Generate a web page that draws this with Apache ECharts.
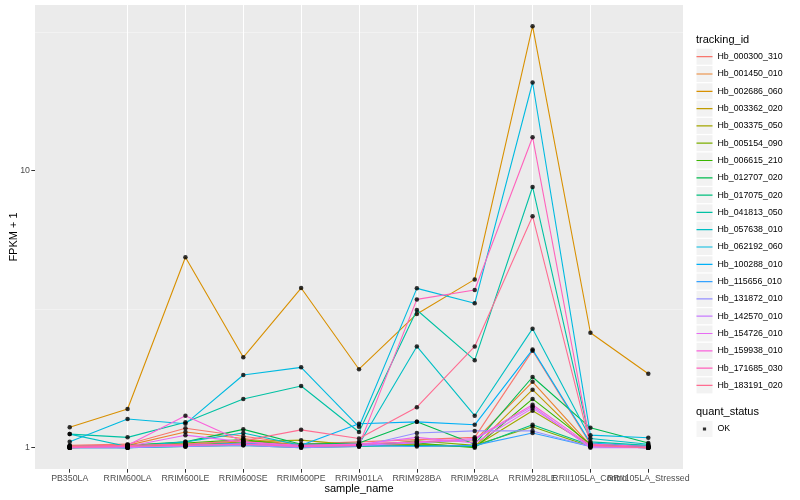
<!DOCTYPE html>
<html><head><meta charset="utf-8">
<script src="https://cdn.jsdelivr.net/npm/echarts@6/dist/echarts.min.js"></script>
<style>html,body{margin:0;padding:0;background:#fff}#c{width:800px;height:500px}</style>
</head><body><div id="c"></div>
<script>
const categories = ["PB350LA","RRIM600LA","RRIM600LE","RRIM600SE","RRIM600PE","RRIM901LA","RRIM928BA","RRIM928LA","RRIM928LE","RRII105LA_Control","RRII105LA_Stressed"];
const trackingIds = ["Hb_000300_310","Hb_001450_010","Hb_002686_060","Hb_003362_020","Hb_003375_050","Hb_005154_090","Hb_006615_210","Hb_012707_020","Hb_017075_020","Hb_041813_050","Hb_057638_010","Hb_062192_060","Hb_100288_010","Hb_115656_010","Hb_131872_010","Hb_142570_010","Hb_154726_010","Hb_159938_010","Hb_171685_030","Hb_183191_020"];
const colors = ["#F8766D","#EA8331","#D89000","#C09B00","#A3A500","#7CAE00","#39B600","#00BB4E","#00BF7D","#00C1A3","#00BFC4","#00BAE0","#00B0F6","#35A2FF","#9590FF","#C77CFF","#E76BF3","#FA62DB","#FF62BC","#FF6C91"];
const s0  = [1.02, 1.03, 1.175, 1.10, 1.03, 1.05, 1.07, 1.09, 2.24, 1.03, 1.01];
const s1  = [1.01, 1.02, 1.14, 1.08, 1.02, 1.03, 1.05, 1.06, 1.73, 1.02, 1.01];
const s2  = [1.185, 1.38, 4.87, 2.12, 3.77, 1.92, 3.04, 4.05, 33.2, 2.60, 1.85];
const s3  = [1.00, 1.01, 1.02, 1.04, 1.01, 1.02, 1.02, 1.01, 1.62, 1.01, 1.00];
const s4  = [1.00, 1.01, 1.02, 1.05, 1.065, 1.02, 1.03, 1.01, 1.36, 1.02, 1.01];
const s5  = [1.01, 1.00, 1.03, 1.06, 1.02, 1.01, 1.06, 1.02, 1.19, 1.01, 1.00];
const s6  = [1.00, 1.02, 1.04, 1.07, 1.01, 1.03, 1.04, 1.00, 1.50, 1.03, 1.00];
const s7  = [1.01, 1.02, 1.05, 1.165, 1.03, 1.04, 1.24, 1.03, 1.80, 1.18, 1.04];
const s8  = [1.00, 1.00, 1.01, 1.02, 1.00, 1.01, 1.02, 1.01, 1.21, 1.02, 1.01];
const s9  = [1.12, 1.09, 1.235, 1.50, 1.67, 1.14, 3.14, 2.07, 8.73, 1.05, 1.02];
const s10 = [1.12, 1.01, 1.05, 1.13, 1.02, 1.03, 2.32, 1.305, 2.69, 1.08, 1.03];
const s11 = [1.05, 1.27, 1.22, 1.83, 1.95, 1.19, 3.76, 3.32, 20.8, 1.11, 1.086];
const s12 = [1.01, 1.00, 1.02, 1.04, 1.02, 1.22, 1.24, 1.21, 2.26, 1.04, 1.01];
const s13 = [1.00, 1.00, 1.01, 1.03, 1.01, 1.02, 1.01, 1.02, 1.13, 1.01, 1.00];
const s14 = [1.00, 1.01, 1.01, 1.02, 1.00, 1.01, 1.13, 1.15, 1.15, 1.01, 1.00];
const s15 = [1.00, 1.00, 1.02, 1.03, 1.01, 1.02, 1.04, 1.07, 1.41, 1.00, 1.00];
const s16 = [1.01, 1.01, 1.11, 1.05, 1.01, 1.03, 1.09, 1.04, 1.39, 1.01, 1.00];
const s17 = [1.01, 1.02, 1.305, 1.05, 1.02, 1.03, 1.05, 1.08, 1.43, 1.02, 1.00];
const s18 = [1.00, 1.01, 1.02, 1.03, 1.01, 1.02, 3.43, 3.71, 13.2, 1.03, 1.01];
const s19 = [1.01, 1.02, 1.03, 1.06, 1.16, 1.08, 1.40, 2.32, 6.85, 1.02, 1.00];
const seriesValues = [s0,s1,s2,s3,s4,s5,s6,s7,s8,s9,s10,s11,s12,s13,s14,s15,s16,s17,s18,s19];
const yTickValues = [1, 10];
const yMinorGrid = [3.1623, 31.623];
const quantStatus = ["OK"];

const FONT = '"Liberation Sans", Arial, Helvetica, sans-serif';
const catIdx = categories.map((c, i) => i);
// labels split over two identical bottom axes so overlapping labels are both drawn
const labelIdxA = catIdx.filter(i => i !== 9);
const labelIdxB = [9];
const LINE_ICON = 'path://M0,0h0.01v0.01h-0.01Z M0,7.4h16v1.2h-16Z M15.99,16h0.01v-0.01Z';
const SQ_ICON = 'path://M0,0h0.01v0.01h-0.01Z M6.4,6.4h3.2v3.2h-3.2Z M15.99,16h0.01v-0.01Z';

const chart = echarts.init(document.getElementById('c'), null, {renderer: 'canvas'});

const lineSeries = trackingIds.map((id, i) => ({
  name: id, type: 'line',
  data: seriesValues[i].map((v, j) => [j, v]),
  symbol: 'none', showSymbol: false,
  lineStyle: {color: colors[i], width: 1.1},
  itemStyle: {color: colors[i]},
  z: 2, silent: true, animation: false
}));
const pts = [];
seriesValues.forEach(arr => arr.forEach((v, j) => pts.push([j, v])));

const legendBase = {
  orient: 'vertical', left: 696.5, itemWidth: 16, itemHeight: 16, itemGap: 1.3,
  selectedMode: false, padding: 0,
  textStyle: {fontSize: 8.8, fontFamily: FONT, color: '#000'}
};
const transparentText = {fontSize: 8.8, fontFamily: FONT, color: 'rgba(0,0,0,0)'};
const catFormatter = v => { const k = Math.round(v); return (Math.abs(v - k) < 1e-6 && categories[k]) ? categories[k] : ''; };
const xLabelStyle = {hideOverlap: false, showMinLabel: true, showMaxLabel: true, formatter: catFormatter, margin: 5, fontSize: 8.8, color: '#4D4D4D', fontFamily: FONT};

chart.setOption({
  animation: false,
  backgroundColor: '#fff',
  title: [
    {text: 'tracking_id', left: 696, top: 34, padding: 0, textStyle: {fontSize: 11, fontWeight: 'normal', color: '#000', fontFamily: FONT}},
    {text: 'quant_status', left: 696, top: 406, padding: 0, textStyle: {fontSize: 11, fontWeight: 'normal', color: '#000', fontFamily: FONT}}
  ],
  grid: {left: 35, top: 5, width: 648, height: 464, show: true, backgroundColor: '#EBEBEB', borderWidth: 0, containLabel: false, outerBoundsMode: 'none'},
  xAxis: [{
    type: 'value', min: -0.6, max: 10.6, minInterval: 1, maxInterval: 1, splitNumber: 11, position: 'bottom',
    axisLine: {show: false, onZero: false},
    axisTick: {show: true, length: 3.7, lineStyle: {color: '#333333', width: 1}, customValues: catIdx},
    axisLabel: Object.assign({customValues: labelIdxA}, xLabelStyle),
    splitLine: {show: true, showMinLine: false, showMaxLine: false, lineStyle: {color: '#FFFFFF', width: 1}},
    name: 'sample_name', nameLocation: 'middle', nameGap: 14, nameMoveOverlap: false,
    nameTextStyle: {fontSize: 11, color: '#000', fontFamily: FONT}
  }, {
    type: 'value', min: -0.6, max: 10.6, minInterval: 1, maxInterval: 1, splitNumber: 11, position: 'bottom', offset: 0,
    axisLine: {show: false, onZero: false},
    axisTick: {show: false},
    axisLabel: Object.assign({customValues: labelIdxB}, xLabelStyle),
    splitLine: {show: false}
  }],
  yAxis: {
    type: 'log', logBase: 10, min: 0.838, max: 39.6,
    axisLine: {show: false, onZero: false},
    axisTick: {show: true, inside: false, length: 3.7, lineStyle: {color: '#333333', width: 1}, customValues: yTickValues},
    axisLabel: {customValues: yTickValues, showMinLabel: true, showMaxLabel: true, formatter: v => (Math.abs(v - 1) < 1e-6 ? '1' : (Math.abs(v - 10) < 1e-5 ? '10' : '')), margin: 5, fontSize: 8.8, color: '#4D4D4D', fontFamily: FONT},
    splitLine: {show: true, showMinLine: false, showMaxLine: false, lineStyle: {color: '#FFFFFF', width: 1}},
    name: 'FPKM + 1', nameLocation: 'middle', nameGap: 16, nameRotate: 90, nameMoveOverlap: false,
    nameTextStyle: {fontSize: 11, color: '#000', fontFamily: FONT}
  },
  legend: [
    Object.assign({}, legendBase, {top: 48.7, data: trackingIds, icon: 'rect', itemStyle: {color: '#F2F2F2', borderWidth: 0}, textStyle: transparentText, z: 4}),
    Object.assign({}, legendBase, {top: 48.7, data: trackingIds, icon: LINE_ICON, itemStyle: {borderWidth: 0}, z: 5}),
    Object.assign({}, legendBase, {top: 421, data: quantStatus, icon: 'rect', itemStyle: {color: '#F2F2F2', borderWidth: 0}, textStyle: transparentText, z: 4}),
    Object.assign({}, legendBase, {top: 421, data: quantStatus, icon: SQ_ICON, itemStyle: {color: '#000', borderWidth: 0}, z: 5})
  ],
  series: [
    {
      name: '_minor', type: 'line', data: [], silent: true, z: 1,
      markLine: {
        silent: true, symbol: 'none', z: 1, animation: false,
        label: {show: false},
        lineStyle: {color: 'rgba(255,255,255,0.75)', width: 0.5, type: 'solid'},
        data: yMinorGrid.map(v => ({yAxis: v}))
      }
    }
  ].concat(lineSeries, [{
    name: quantStatus[0], type: 'scatter', data: pts, symbol: 'circle', symbolSize: 4.5,
    itemStyle: {color: '#000'}, z: 3, silent: true, animation: false
  }])
});
</script></body></html>
